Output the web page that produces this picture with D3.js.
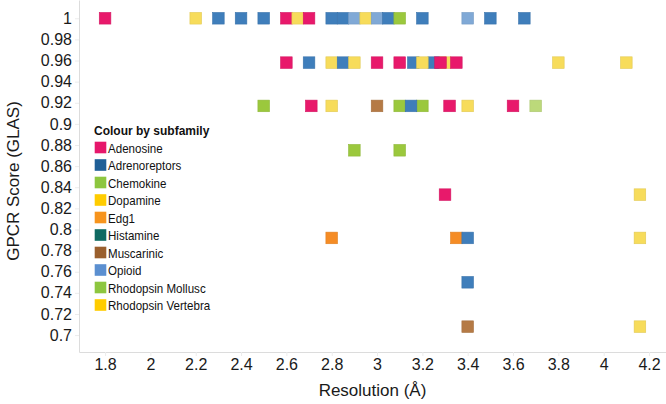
<!DOCTYPE html>
<html><head><meta charset="utf-8">
<script src="https://cdn.jsdelivr.net/npm/d3@7/dist/d3.min.js"></script>
<style>body{margin:0;background:#fff}svg{display:block;font-family:"Liberation Sans",Arial,Helvetica,sans-serif}</style>
</head><body><svg id="c" width="666" height="404"></svg>
<script>
const subfamilies = ["Adenosine","Adrenoreptors","Chemokine","Dopamine","Edg1","Histamine","Muscarinic","Opioid","Rhodopsin Mollusc","Rhodopsin Vertebra"];
const legendColors = ["#e6176b","#1f5f97","#8dc63f","#ffcc00","#f7941d","#0f6a62","#9a5f2d","#5b8fd0","#8dc63f","#ffcc00"];
const pointColors  = ["#e8196b","#3f7ebb","#9bc83d","#f7dc5b","#f58c25","#0f6a62","#b57a45","#80a9d6","#bcd97a","#f7dc5b"];
const xTicks = [1.8,2,2.2,2.4,2.6,2.8,3,3.2,3.4,3.6,3.8,4,4.2];
const yTicks = [1,0.98,0.96,0.94,0.92,0.9,0.88,0.86,0.84,0.82,0.8,0.78,0.76,0.74,0.72,0.7];

const resolution = [
  1.8,2.2,2.3,2.4,2.5,2.6,2.65,2.7,2.8,2.85,2.9,2.95,3.0,3.05,3.1,3.2,3.4,3.5,3.65,
  2.6,2.7,2.8,2.85,2.9,3.0,3.1,3.16,3.25,3.3,3.2,3.28,3.35,3.8,4.1,
  2.5,2.71,2.8,3.0,3.1,3.2,3.15,3.32,3.4,3.6,3.7,
  2.9,3.1,
  3.3,4.16,
  2.8,3.35,3.4,4.16,
  3.4,
  3.4,4.16
];
const score = [
  1,1,1,1,1,1,1,1,1,1,1,1,1,1,1,1,1,1,1,
  0.958,0.958,0.958,0.958,0.958,0.958,0.958,0.958,0.958,0.958,0.958,0.958,0.958,0.958,0.958,
  0.917,0.917,0.917,0.917,0.917,0.917,0.917,0.917,0.917,0.917,0.917,
  0.875,0.875,
  0.833,0.833,
  0.792,0.792,0.792,0.792,
  0.75,
  0.708,0.708
];
const family = [
  "Adenosine","Dopamine","Adrenoreptors","Adrenoreptors","Adrenoreptors","Adenosine","Dopamine","Adenosine","Adrenoreptors","Adrenoreptors","Opioid","Dopamine","Opioid","Adrenoreptors","Chemokine","Adrenoreptors","Opioid","Adrenoreptors","Adrenoreptors",
  "Adenosine","Adrenoreptors","Dopamine","Adrenoreptors","Dopamine","Adenosine","Adenosine","Adrenoreptors","Adrenoreptors","Dopamine","Dopamine","Adenosine","Adenosine","Rhodopsin Vertebra","Rhodopsin Vertebra",
  "Chemokine","Adenosine","Dopamine","Muscarinic","Chemokine","Chemokine","Adrenoreptors","Adenosine","Dopamine","Adenosine","Rhodopsin Mollusc",
  "Chemokine","Chemokine",
  "Adenosine","Rhodopsin Vertebra",
  "Edg1","Edg1","Adrenoreptors","Rhodopsin Vertebra",
  "Adrenoreptors",
  "Muscarinic","Rhodopsin Vertebra"
];

const svg = d3.select("#c");
const x = d3.scaleLinear().domain([1.685, 4.275]).range([79, 666]);
const y = d3.scaleLinear().domain([0.684, 1.0173]).range([352, 0]);
const pc = d3.scaleOrdinal().domain(subfamilies).range(pointColors);
const lc = d3.scaleOrdinal().domain(subfamilies).range(legendColors);

// axes
const gx = svg.append("g").attr("transform","translate(0,352)")
  .call(d3.axisBottom(x).tickValues(xTicks).tickFormat(d3.format("~g")).tickSize(4).tickSizeOuter(0).tickPadding(3));
const gy = svg.append("g").attr("transform","translate(79,0)")
  .call(d3.axisLeft(y).tickValues(yTicks).tickFormat(d3.format("~g")).tickSize(4).tickSizeOuter(0).tickPadding(3));
[gx,gy].forEach(g=>{
  g.select(".domain").attr("stroke","#dcdcdc");
  g.selectAll(".tick line").attr("stroke","#ececec");
  g.selectAll(".tick text").attr("fill","#1a1a1a").attr("font-size",16).attr("font-family",null);
});

// axis titles
svg.append("text").attr("transform","translate(19,181) rotate(-90)").attr("text-anchor","middle")
  .attr("font-size",17).attr("fill","#1a1a1a").text("GPCR Score (GLAS)");
svg.append("text").attr("x",372.5).attr("y",396).attr("text-anchor","middle")
  .attr("font-size",17).attr("fill","#1a1a1a").text("Resolution (Å)");

// points
const pts = resolution.map((r,i)=>({r, s:score[i], f:family[i]}));
const S = 11.6;
svg.append("g").selectAll("rect").data(pts).join("rect")
  .attr("x",d=>x(d.r)-S/2).attr("y",d=>y(d.s)-S/2)
  .attr("width",S).attr("height",S)
  .attr("fill",d=>pc(d.f))
  .attr("stroke",d=>d3.color(pc(d.f)).darker(0.25))
  .attr("stroke-width",0.6);

// legend
const lg = svg.append("g");
lg.append("text").attr("x",94).attr("y",134.5).attr("font-size",12).attr("font-weight","bold")
  .attr("fill","#111").text("Colour by subfamily");
const li = lg.selectAll("g.it").data(subfamilies).join("g").attr("class","it")
  .attr("transform",(d,i)=>`translate(0,${147.5+i*17.5})`);
li.append("rect").attr("x",94.7).attr("y",-5.8).attr("width",11.6).attr("height",11.6).attr("fill",d=>lc(d));
li.append("text").attr("transform","translate(108,5) scale(0.89,1)").attr("font-size",13)
  .attr("fill","#111").text(d=>d);
</script></body></html>
